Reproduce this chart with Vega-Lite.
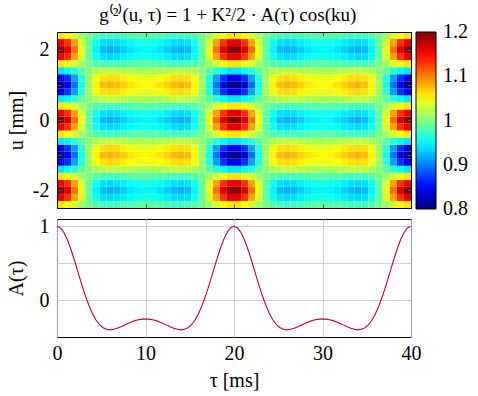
{
"$schema": "https://vega.github.io/schema/vega-lite/v6.json",
"background": "white",
"padding": {"left": 5, "top": 6, "right": 5, "bottom": 5},
"title": {"text": "g⁽²⁾(u, τ)  =  1  +  K²/2 · A(τ) cos(ku)", "fontSize": 19, "font": "Liberation Serif", "fontWeight": "normal", "color": "black", "anchor": "middle", "offset": 6, "dx": -9},
"datasets": {
"heat": [
{"t":0.4,"u":-2.4,"g":1.06},{"t":0.4,"u":-2.2,"g":1.158},{"t":0.4,"u":-2,"g":1.196},{"t":0.4,"u":-1.8,"g":1.158},{"t":0.4,"u":-1.6,"g":1.06},{"t":0.4,"u":-1.4,"g":0.94},{"t":0.4,"u":-1.2,"g":0.842},{"t":0.4,"u":-1,"g":0.804},{"t":0.4,"u":-0.8,"g":0.842},{"t":0.4,"u":-0.6,"g":0.94},{"t":0.4,"u":-0.4,"g":1.06},{"t":0.4,"u":-0.2,"g":1.158},{"t":0.4,"u":0,"g":1.196},{"t":0.4,"u":0.2,"g":1.158},{"t":0.4,"u":0.4,"g":1.06},{"t":0.4,"u":0.6,"g":0.94},{"t":0.4,"u":0.8,"g":0.842},{"t":0.4,"u":1,"g":0.804},{"t":0.4,"u":1.2,"g":0.842},{"t":0.4,"u":1.4,"g":0.94},{"t":0.4,"u":1.6,"g":1.06},{"t":0.4,"u":1.8,"g":1.158},{"t":0.4,"u":2,"g":1.196},{"t":0.4,"u":2.2,"g":1.158},{"t":0.4,"u":2.4,"g":1.06},
{"t":1.2,"u":-2.4,"g":1.05},{"t":1.2,"u":-2.2,"g":1.131},{"t":1.2,"u":-2,"g":1.162},{"t":1.2,"u":-1.8,"g":1.131},{"t":1.2,"u":-1.6,"g":1.05},{"t":1.2,"u":-1.4,"g":0.95},{"t":1.2,"u":-1.2,"g":0.869},{"t":1.2,"u":-1,"g":0.838},{"t":1.2,"u":-0.8,"g":0.869},{"t":1.2,"u":-0.6,"g":0.95},{"t":1.2,"u":-0.4,"g":1.05},{"t":1.2,"u":-0.2,"g":1.131},{"t":1.2,"u":0,"g":1.162},{"t":1.2,"u":0.2,"g":1.131},{"t":1.2,"u":0.4,"g":1.05},{"t":1.2,"u":0.6,"g":0.95},{"t":1.2,"u":0.8,"g":0.869},{"t":1.2,"u":1,"g":0.838},{"t":1.2,"u":1.2,"g":0.869},{"t":1.2,"u":1.4,"g":0.95},{"t":1.2,"u":1.6,"g":1.05},{"t":1.2,"u":1.8,"g":1.131},{"t":1.2,"u":2,"g":1.162},{"t":1.2,"u":2.2,"g":1.131},{"t":1.2,"u":2.4,"g":1.05},
{"t":2,"u":-2.4,"g":1.033},{"t":2,"u":-2.2,"g":1.086},{"t":2,"u":-2,"g":1.106},{"t":2,"u":-1.8,"g":1.086},{"t":2,"u":-1.6,"g":1.033},{"t":2,"u":-1.4,"g":0.967},{"t":2,"u":-1.2,"g":0.914},{"t":2,"u":-1,"g":0.894},{"t":2,"u":-0.8,"g":0.914},{"t":2,"u":-0.6,"g":0.967},{"t":2,"u":-0.4,"g":1.033},{"t":2,"u":-0.2,"g":1.086},{"t":2,"u":0,"g":1.106},{"t":2,"u":0.2,"g":1.086},{"t":2,"u":0.4,"g":1.033},{"t":2,"u":0.6,"g":0.967},{"t":2,"u":0.8,"g":0.914},{"t":2,"u":1,"g":0.894},{"t":2,"u":1.2,"g":0.914},{"t":2,"u":1.4,"g":0.967},{"t":2,"u":1.6,"g":1.033},{"t":2,"u":1.8,"g":1.086},{"t":2,"u":2,"g":1.106},{"t":2,"u":2.2,"g":1.086},{"t":2,"u":2.4,"g":1.033},
{"t":2.8,"u":-2.4,"g":1.013},{"t":2.8,"u":-2.2,"g":1.034},{"t":2.8,"u":-2,"g":1.042},{"t":2.8,"u":-1.8,"g":1.034},{"t":2.8,"u":-1.6,"g":1.013},{"t":2.8,"u":-1.4,"g":0.987},{"t":2.8,"u":-1.2,"g":0.966},{"t":2.8,"u":-1,"g":0.958},{"t":2.8,"u":-0.8,"g":0.966},{"t":2.8,"u":-0.6,"g":0.987},{"t":2.8,"u":-0.4,"g":1.013},{"t":2.8,"u":-0.2,"g":1.034},{"t":2.8,"u":0,"g":1.042},{"t":2.8,"u":0.2,"g":1.034},{"t":2.8,"u":0.4,"g":1.013},{"t":2.8,"u":0.6,"g":0.987},{"t":2.8,"u":0.8,"g":0.966},{"t":2.8,"u":1,"g":0.958},{"t":2.8,"u":1.2,"g":0.966},{"t":2.8,"u":1.4,"g":0.987},{"t":2.8,"u":1.6,"g":1.013},{"t":2.8,"u":1.8,"g":1.034},{"t":2.8,"u":2,"g":1.042},{"t":2.8,"u":2.2,"g":1.034},{"t":2.8,"u":2.4,"g":1.013},
{"t":3.6,"u":-2.4,"g":0.996},{"t":3.6,"u":-2.2,"g":0.989},{"t":3.6,"u":-2,"g":0.986},{"t":3.6,"u":-1.8,"g":0.989},{"t":3.6,"u":-1.6,"g":0.996},{"t":3.6,"u":-1.4,"g":1.004},{"t":3.6,"u":-1.2,"g":1.011},{"t":3.6,"u":-1,"g":1.014},{"t":3.6,"u":-0.8,"g":1.011},{"t":3.6,"u":-0.6,"g":1.004},{"t":3.6,"u":-0.4,"g":0.996},{"t":3.6,"u":-0.2,"g":0.989},{"t":3.6,"u":0,"g":0.986},{"t":3.6,"u":0.2,"g":0.989},{"t":3.6,"u":0.4,"g":0.996},{"t":3.6,"u":0.6,"g":1.004},{"t":3.6,"u":0.8,"g":1.011},{"t":3.6,"u":1,"g":1.014},{"t":3.6,"u":1.2,"g":1.011},{"t":3.6,"u":1.4,"g":1.004},{"t":3.6,"u":1.6,"g":0.996},{"t":3.6,"u":1.8,"g":0.989},{"t":3.6,"u":2,"g":0.986},{"t":3.6,"u":2.2,"g":0.989},{"t":3.6,"u":2.4,"g":0.996},
{"t":4.4,"u":-2.4,"g":0.983},{"t":4.4,"u":-2.2,"g":0.956},{"t":4.4,"u":-2,"g":0.946},{"t":4.4,"u":-1.8,"g":0.956},{"t":4.4,"u":-1.6,"g":0.983},{"t":4.4,"u":-1.4,"g":1.017},{"t":4.4,"u":-1.2,"g":1.044},{"t":4.4,"u":-1,"g":1.054},{"t":4.4,"u":-0.8,"g":1.044},{"t":4.4,"u":-0.6,"g":1.017},{"t":4.4,"u":-0.4,"g":0.983},{"t":4.4,"u":-0.2,"g":0.956},{"t":4.4,"u":0,"g":0.946},{"t":4.4,"u":0.2,"g":0.956},{"t":4.4,"u":0.4,"g":0.983},{"t":4.4,"u":0.6,"g":1.017},{"t":4.4,"u":0.8,"g":1.044},{"t":4.4,"u":1,"g":1.054},{"t":4.4,"u":1.2,"g":1.044},{"t":4.4,"u":1.4,"g":1.017},{"t":4.4,"u":1.6,"g":0.983},{"t":4.4,"u":1.8,"g":0.956},{"t":4.4,"u":2,"g":0.946},{"t":4.4,"u":2.2,"g":0.956},{"t":4.4,"u":2.4,"g":0.983},
{"t":5.2,"u":-2.4,"g":0.977},{"t":5.2,"u":-2.2,"g":0.939},{"t":5.2,"u":-2,"g":0.925},{"t":5.2,"u":-1.8,"g":0.939},{"t":5.2,"u":-1.6,"g":0.977},{"t":5.2,"u":-1.4,"g":1.023},{"t":5.2,"u":-1.2,"g":1.061},{"t":5.2,"u":-1,"g":1.075},{"t":5.2,"u":-0.8,"g":1.061},{"t":5.2,"u":-0.6,"g":1.023},{"t":5.2,"u":-0.4,"g":0.977},{"t":5.2,"u":-0.2,"g":0.939},{"t":5.2,"u":0,"g":0.925},{"t":5.2,"u":0.2,"g":0.939},{"t":5.2,"u":0.4,"g":0.977},{"t":5.2,"u":0.6,"g":1.023},{"t":5.2,"u":0.8,"g":1.061},{"t":5.2,"u":1,"g":1.075},{"t":5.2,"u":1.2,"g":1.061},{"t":5.2,"u":1.4,"g":1.023},{"t":5.2,"u":1.6,"g":0.977},{"t":5.2,"u":1.8,"g":0.939},{"t":5.2,"u":2,"g":0.925},{"t":5.2,"u":2.2,"g":0.939},{"t":5.2,"u":2.4,"g":0.977},
{"t":6,"u":-2.4,"g":0.975},{"t":6,"u":-2.2,"g":0.935},{"t":6,"u":-2,"g":0.919},{"t":6,"u":-1.8,"g":0.935},{"t":6,"u":-1.6,"g":0.975},{"t":6,"u":-1.4,"g":1.025},{"t":6,"u":-1.2,"g":1.065},{"t":6,"u":-1,"g":1.081},{"t":6,"u":-0.8,"g":1.065},{"t":6,"u":-0.6,"g":1.025},{"t":6,"u":-0.4,"g":0.975},{"t":6,"u":-0.2,"g":0.935},{"t":6,"u":0,"g":0.919},{"t":6,"u":0.2,"g":0.935},{"t":6,"u":0.4,"g":0.975},{"t":6,"u":0.6,"g":1.025},{"t":6,"u":0.8,"g":1.065},{"t":6,"u":1,"g":1.081},{"t":6,"u":1.2,"g":1.065},{"t":6,"u":1.4,"g":1.025},{"t":6,"u":1.6,"g":0.975},{"t":6,"u":1.8,"g":0.935},{"t":6,"u":2,"g":0.919},{"t":6,"u":2.2,"g":0.935},{"t":6,"u":2.4,"g":0.975},
{"t":6.8,"u":-2.4,"g":0.976},{"t":6.8,"u":-2.2,"g":0.938},{"t":6.8,"u":-2,"g":0.924},{"t":6.8,"u":-1.8,"g":0.938},{"t":6.8,"u":-1.6,"g":0.976},{"t":6.8,"u":-1.4,"g":1.024},{"t":6.8,"u":-1.2,"g":1.062},{"t":6.8,"u":-1,"g":1.076},{"t":6.8,"u":-0.8,"g":1.062},{"t":6.8,"u":-0.6,"g":1.024},{"t":6.8,"u":-0.4,"g":0.976},{"t":6.8,"u":-0.2,"g":0.938},{"t":6.8,"u":0,"g":0.924},{"t":6.8,"u":0.2,"g":0.938},{"t":6.8,"u":0.4,"g":0.976},{"t":6.8,"u":0.6,"g":1.024},{"t":6.8,"u":0.8,"g":1.062},{"t":6.8,"u":1,"g":1.076},{"t":6.8,"u":1.2,"g":1.062},{"t":6.8,"u":1.4,"g":1.024},{"t":6.8,"u":1.6,"g":0.976},{"t":6.8,"u":1.8,"g":0.938},{"t":6.8,"u":2,"g":0.924},{"t":6.8,"u":2.2,"g":0.938},{"t":6.8,"u":2.4,"g":0.976},
{"t":7.6,"u":-2.4,"g":0.979},{"t":7.6,"u":-2.2,"g":0.945},{"t":7.6,"u":-2,"g":0.932},{"t":7.6,"u":-1.8,"g":0.945},{"t":7.6,"u":-1.6,"g":0.979},{"t":7.6,"u":-1.4,"g":1.021},{"t":7.6,"u":-1.2,"g":1.055},{"t":7.6,"u":-1,"g":1.068},{"t":7.6,"u":-0.8,"g":1.055},{"t":7.6,"u":-0.6,"g":1.021},{"t":7.6,"u":-0.4,"g":0.979},{"t":7.6,"u":-0.2,"g":0.945},{"t":7.6,"u":0,"g":0.932},{"t":7.6,"u":0.2,"g":0.945},{"t":7.6,"u":0.4,"g":0.979},{"t":7.6,"u":0.6,"g":1.021},{"t":7.6,"u":0.8,"g":1.055},{"t":7.6,"u":1,"g":1.068},{"t":7.6,"u":1.2,"g":1.055},{"t":7.6,"u":1.4,"g":1.021},{"t":7.6,"u":1.6,"g":0.979},{"t":7.6,"u":1.8,"g":0.945},{"t":7.6,"u":2,"g":0.932},{"t":7.6,"u":2.2,"g":0.945},{"t":7.6,"u":2.4,"g":0.979},
{"t":8.4,"u":-2.4,"g":0.982},{"t":8.4,"u":-2.2,"g":0.952},{"t":8.4,"u":-2,"g":0.941},{"t":8.4,"u":-1.8,"g":0.952},{"t":8.4,"u":-1.6,"g":0.982},{"t":8.4,"u":-1.4,"g":1.018},{"t":8.4,"u":-1.2,"g":1.048},{"t":8.4,"u":-1,"g":1.059},{"t":8.4,"u":-0.8,"g":1.048},{"t":8.4,"u":-0.6,"g":1.018},{"t":8.4,"u":-0.4,"g":0.982},{"t":8.4,"u":-0.2,"g":0.952},{"t":8.4,"u":0,"g":0.941},{"t":8.4,"u":0.2,"g":0.952},{"t":8.4,"u":0.4,"g":0.982},{"t":8.4,"u":0.6,"g":1.018},{"t":8.4,"u":0.8,"g":1.048},{"t":8.4,"u":1,"g":1.059},{"t":8.4,"u":1.2,"g":1.048},{"t":8.4,"u":1.4,"g":1.018},{"t":8.4,"u":1.6,"g":0.982},{"t":8.4,"u":1.8,"g":0.952},{"t":8.4,"u":2,"g":0.941},{"t":8.4,"u":2.2,"g":0.952},{"t":8.4,"u":2.4,"g":0.982},
{"t":9.2,"u":-2.4,"g":0.984},{"t":9.2,"u":-2.2,"g":0.957},{"t":9.2,"u":-2,"g":0.947},{"t":9.2,"u":-1.8,"g":0.957},{"t":9.2,"u":-1.6,"g":0.984},{"t":9.2,"u":-1.4,"g":1.016},{"t":9.2,"u":-1.2,"g":1.043},{"t":9.2,"u":-1,"g":1.053},{"t":9.2,"u":-0.8,"g":1.043},{"t":9.2,"u":-0.6,"g":1.016},{"t":9.2,"u":-0.4,"g":0.984},{"t":9.2,"u":-0.2,"g":0.957},{"t":9.2,"u":0,"g":0.947},{"t":9.2,"u":0.2,"g":0.957},{"t":9.2,"u":0.4,"g":0.984},{"t":9.2,"u":0.6,"g":1.016},{"t":9.2,"u":0.8,"g":1.043},{"t":9.2,"u":1,"g":1.053},{"t":9.2,"u":1.2,"g":1.043},{"t":9.2,"u":1.4,"g":1.016},{"t":9.2,"u":1.6,"g":0.984},{"t":9.2,"u":1.8,"g":0.957},{"t":9.2,"u":2,"g":0.947},{"t":9.2,"u":2.2,"g":0.957},{"t":9.2,"u":2.4,"g":0.984},
{"t":10,"u":-2.4,"g":0.984},{"t":10,"u":-2.2,"g":0.959},{"t":10,"u":-2,"g":0.949},{"t":10,"u":-1.8,"g":0.959},{"t":10,"u":-1.6,"g":0.984},{"t":10,"u":-1.4,"g":1.016},{"t":10,"u":-1.2,"g":1.041},{"t":10,"u":-1,"g":1.051},{"t":10,"u":-0.8,"g":1.041},{"t":10,"u":-0.6,"g":1.016},{"t":10,"u":-0.4,"g":0.984},{"t":10,"u":-0.2,"g":0.959},{"t":10,"u":0,"g":0.949},{"t":10,"u":0.2,"g":0.959},{"t":10,"u":0.4,"g":0.984},{"t":10,"u":0.6,"g":1.016},{"t":10,"u":0.8,"g":1.041},{"t":10,"u":1,"g":1.051},{"t":10,"u":1.2,"g":1.041},{"t":10,"u":1.4,"g":1.016},{"t":10,"u":1.6,"g":0.984},{"t":10,"u":1.8,"g":0.959},{"t":10,"u":2,"g":0.949},{"t":10,"u":2.2,"g":0.959},{"t":10,"u":2.4,"g":0.984},
{"t":10.8,"u":-2.4,"g":0.984},{"t":10.8,"u":-2.2,"g":0.957},{"t":10.8,"u":-2,"g":0.947},{"t":10.8,"u":-1.8,"g":0.957},{"t":10.8,"u":-1.6,"g":0.984},{"t":10.8,"u":-1.4,"g":1.016},{"t":10.8,"u":-1.2,"g":1.043},{"t":10.8,"u":-1,"g":1.053},{"t":10.8,"u":-0.8,"g":1.043},{"t":10.8,"u":-0.6,"g":1.016},{"t":10.8,"u":-0.4,"g":0.984},{"t":10.8,"u":-0.2,"g":0.957},{"t":10.8,"u":0,"g":0.947},{"t":10.8,"u":0.2,"g":0.957},{"t":10.8,"u":0.4,"g":0.984},{"t":10.8,"u":0.6,"g":1.016},{"t":10.8,"u":0.8,"g":1.043},{"t":10.8,"u":1,"g":1.053},{"t":10.8,"u":1.2,"g":1.043},{"t":10.8,"u":1.4,"g":1.016},{"t":10.8,"u":1.6,"g":0.984},{"t":10.8,"u":1.8,"g":0.957},{"t":10.8,"u":2,"g":0.947},{"t":10.8,"u":2.2,"g":0.957},{"t":10.8,"u":2.4,"g":0.984},
{"t":11.6,"u":-2.4,"g":0.982},{"t":11.6,"u":-2.2,"g":0.952},{"t":11.6,"u":-2,"g":0.941},{"t":11.6,"u":-1.8,"g":0.952},{"t":11.6,"u":-1.6,"g":0.982},{"t":11.6,"u":-1.4,"g":1.018},{"t":11.6,"u":-1.2,"g":1.048},{"t":11.6,"u":-1,"g":1.059},{"t":11.6,"u":-0.8,"g":1.048},{"t":11.6,"u":-0.6,"g":1.018},{"t":11.6,"u":-0.4,"g":0.982},{"t":11.6,"u":-0.2,"g":0.952},{"t":11.6,"u":0,"g":0.941},{"t":11.6,"u":0.2,"g":0.952},{"t":11.6,"u":0.4,"g":0.982},{"t":11.6,"u":0.6,"g":1.018},{"t":11.6,"u":0.8,"g":1.048},{"t":11.6,"u":1,"g":1.059},{"t":11.6,"u":1.2,"g":1.048},{"t":11.6,"u":1.4,"g":1.018},{"t":11.6,"u":1.6,"g":0.982},{"t":11.6,"u":1.8,"g":0.952},{"t":11.6,"u":2,"g":0.941},{"t":11.6,"u":2.2,"g":0.952},{"t":11.6,"u":2.4,"g":0.982},
{"t":12.4,"u":-2.4,"g":0.979},{"t":12.4,"u":-2.2,"g":0.945},{"t":12.4,"u":-2,"g":0.932},{"t":12.4,"u":-1.8,"g":0.945},{"t":12.4,"u":-1.6,"g":0.979},{"t":12.4,"u":-1.4,"g":1.021},{"t":12.4,"u":-1.2,"g":1.055},{"t":12.4,"u":-1,"g":1.068},{"t":12.4,"u":-0.8,"g":1.055},{"t":12.4,"u":-0.6,"g":1.021},{"t":12.4,"u":-0.4,"g":0.979},{"t":12.4,"u":-0.2,"g":0.945},{"t":12.4,"u":0,"g":0.932},{"t":12.4,"u":0.2,"g":0.945},{"t":12.4,"u":0.4,"g":0.979},{"t":12.4,"u":0.6,"g":1.021},{"t":12.4,"u":0.8,"g":1.055},{"t":12.4,"u":1,"g":1.068},{"t":12.4,"u":1.2,"g":1.055},{"t":12.4,"u":1.4,"g":1.021},{"t":12.4,"u":1.6,"g":0.979},{"t":12.4,"u":1.8,"g":0.945},{"t":12.4,"u":2,"g":0.932},{"t":12.4,"u":2.2,"g":0.945},{"t":12.4,"u":2.4,"g":0.979},
{"t":13.2,"u":-2.4,"g":0.976},{"t":13.2,"u":-2.2,"g":0.938},{"t":13.2,"u":-2,"g":0.924},{"t":13.2,"u":-1.8,"g":0.938},{"t":13.2,"u":-1.6,"g":0.976},{"t":13.2,"u":-1.4,"g":1.024},{"t":13.2,"u":-1.2,"g":1.062},{"t":13.2,"u":-1,"g":1.076},{"t":13.2,"u":-0.8,"g":1.062},{"t":13.2,"u":-0.6,"g":1.024},{"t":13.2,"u":-0.4,"g":0.976},{"t":13.2,"u":-0.2,"g":0.938},{"t":13.2,"u":0,"g":0.924},{"t":13.2,"u":0.2,"g":0.938},{"t":13.2,"u":0.4,"g":0.976},{"t":13.2,"u":0.6,"g":1.024},{"t":13.2,"u":0.8,"g":1.062},{"t":13.2,"u":1,"g":1.076},{"t":13.2,"u":1.2,"g":1.062},{"t":13.2,"u":1.4,"g":1.024},{"t":13.2,"u":1.6,"g":0.976},{"t":13.2,"u":1.8,"g":0.938},{"t":13.2,"u":2,"g":0.924},{"t":13.2,"u":2.2,"g":0.938},{"t":13.2,"u":2.4,"g":0.976},
{"t":14,"u":-2.4,"g":0.975},{"t":14,"u":-2.2,"g":0.935},{"t":14,"u":-2,"g":0.919},{"t":14,"u":-1.8,"g":0.935},{"t":14,"u":-1.6,"g":0.975},{"t":14,"u":-1.4,"g":1.025},{"t":14,"u":-1.2,"g":1.065},{"t":14,"u":-1,"g":1.081},{"t":14,"u":-0.8,"g":1.065},{"t":14,"u":-0.6,"g":1.025},{"t":14,"u":-0.4,"g":0.975},{"t":14,"u":-0.2,"g":0.935},{"t":14,"u":0,"g":0.919},{"t":14,"u":0.2,"g":0.935},{"t":14,"u":0.4,"g":0.975},{"t":14,"u":0.6,"g":1.025},{"t":14,"u":0.8,"g":1.065},{"t":14,"u":1,"g":1.081},{"t":14,"u":1.2,"g":1.065},{"t":14,"u":1.4,"g":1.025},{"t":14,"u":1.6,"g":0.975},{"t":14,"u":1.8,"g":0.935},{"t":14,"u":2,"g":0.919},{"t":14,"u":2.2,"g":0.935},{"t":14,"u":2.4,"g":0.975},
{"t":14.8,"u":-2.4,"g":0.977},{"t":14.8,"u":-2.2,"g":0.939},{"t":14.8,"u":-2,"g":0.925},{"t":14.8,"u":-1.8,"g":0.939},{"t":14.8,"u":-1.6,"g":0.977},{"t":14.8,"u":-1.4,"g":1.023},{"t":14.8,"u":-1.2,"g":1.061},{"t":14.8,"u":-1,"g":1.075},{"t":14.8,"u":-0.8,"g":1.061},{"t":14.8,"u":-0.6,"g":1.023},{"t":14.8,"u":-0.4,"g":0.977},{"t":14.8,"u":-0.2,"g":0.939},{"t":14.8,"u":0,"g":0.925},{"t":14.8,"u":0.2,"g":0.939},{"t":14.8,"u":0.4,"g":0.977},{"t":14.8,"u":0.6,"g":1.023},{"t":14.8,"u":0.8,"g":1.061},{"t":14.8,"u":1,"g":1.075},{"t":14.8,"u":1.2,"g":1.061},{"t":14.8,"u":1.4,"g":1.023},{"t":14.8,"u":1.6,"g":0.977},{"t":14.8,"u":1.8,"g":0.939},{"t":14.8,"u":2,"g":0.925},{"t":14.8,"u":2.2,"g":0.939},{"t":14.8,"u":2.4,"g":0.977},
{"t":15.6,"u":-2.4,"g":0.983},{"t":15.6,"u":-2.2,"g":0.956},{"t":15.6,"u":-2,"g":0.946},{"t":15.6,"u":-1.8,"g":0.956},{"t":15.6,"u":-1.6,"g":0.983},{"t":15.6,"u":-1.4,"g":1.017},{"t":15.6,"u":-1.2,"g":1.044},{"t":15.6,"u":-1,"g":1.054},{"t":15.6,"u":-0.8,"g":1.044},{"t":15.6,"u":-0.6,"g":1.017},{"t":15.6,"u":-0.4,"g":0.983},{"t":15.6,"u":-0.2,"g":0.956},{"t":15.6,"u":0,"g":0.946},{"t":15.6,"u":0.2,"g":0.956},{"t":15.6,"u":0.4,"g":0.983},{"t":15.6,"u":0.6,"g":1.017},{"t":15.6,"u":0.8,"g":1.044},{"t":15.6,"u":1,"g":1.054},{"t":15.6,"u":1.2,"g":1.044},{"t":15.6,"u":1.4,"g":1.017},{"t":15.6,"u":1.6,"g":0.983},{"t":15.6,"u":1.8,"g":0.956},{"t":15.6,"u":2,"g":0.946},{"t":15.6,"u":2.2,"g":0.956},{"t":15.6,"u":2.4,"g":0.983},
{"t":16.4,"u":-2.4,"g":0.996},{"t":16.4,"u":-2.2,"g":0.989},{"t":16.4,"u":-2,"g":0.986},{"t":16.4,"u":-1.8,"g":0.989},{"t":16.4,"u":-1.6,"g":0.996},{"t":16.4,"u":-1.4,"g":1.004},{"t":16.4,"u":-1.2,"g":1.011},{"t":16.4,"u":-1,"g":1.014},{"t":16.4,"u":-0.8,"g":1.011},{"t":16.4,"u":-0.6,"g":1.004},{"t":16.4,"u":-0.4,"g":0.996},{"t":16.4,"u":-0.2,"g":0.989},{"t":16.4,"u":0,"g":0.986},{"t":16.4,"u":0.2,"g":0.989},{"t":16.4,"u":0.4,"g":0.996},{"t":16.4,"u":0.6,"g":1.004},{"t":16.4,"u":0.8,"g":1.011},{"t":16.4,"u":1,"g":1.014},{"t":16.4,"u":1.2,"g":1.011},{"t":16.4,"u":1.4,"g":1.004},{"t":16.4,"u":1.6,"g":0.996},{"t":16.4,"u":1.8,"g":0.989},{"t":16.4,"u":2,"g":0.986},{"t":16.4,"u":2.2,"g":0.989},{"t":16.4,"u":2.4,"g":0.996},
{"t":17.2,"u":-2.4,"g":1.013},{"t":17.2,"u":-2.2,"g":1.034},{"t":17.2,"u":-2,"g":1.042},{"t":17.2,"u":-1.8,"g":1.034},{"t":17.2,"u":-1.6,"g":1.013},{"t":17.2,"u":-1.4,"g":0.987},{"t":17.2,"u":-1.2,"g":0.966},{"t":17.2,"u":-1,"g":0.958},{"t":17.2,"u":-0.8,"g":0.966},{"t":17.2,"u":-0.6,"g":0.987},{"t":17.2,"u":-0.4,"g":1.013},{"t":17.2,"u":-0.2,"g":1.034},{"t":17.2,"u":0,"g":1.042},{"t":17.2,"u":0.2,"g":1.034},{"t":17.2,"u":0.4,"g":1.013},{"t":17.2,"u":0.6,"g":0.987},{"t":17.2,"u":0.8,"g":0.966},{"t":17.2,"u":1,"g":0.958},{"t":17.2,"u":1.2,"g":0.966},{"t":17.2,"u":1.4,"g":0.987},{"t":17.2,"u":1.6,"g":1.013},{"t":17.2,"u":1.8,"g":1.034},{"t":17.2,"u":2,"g":1.042},{"t":17.2,"u":2.2,"g":1.034},{"t":17.2,"u":2.4,"g":1.013},
{"t":18,"u":-2.4,"g":1.033},{"t":18,"u":-2.2,"g":1.086},{"t":18,"u":-2,"g":1.106},{"t":18,"u":-1.8,"g":1.086},{"t":18,"u":-1.6,"g":1.033},{"t":18,"u":-1.4,"g":0.967},{"t":18,"u":-1.2,"g":0.914},{"t":18,"u":-1,"g":0.894},{"t":18,"u":-0.8,"g":0.914},{"t":18,"u":-0.6,"g":0.967},{"t":18,"u":-0.4,"g":1.033},{"t":18,"u":-0.2,"g":1.086},{"t":18,"u":0,"g":1.106},{"t":18,"u":0.2,"g":1.086},{"t":18,"u":0.4,"g":1.033},{"t":18,"u":0.6,"g":0.967},{"t":18,"u":0.8,"g":0.914},{"t":18,"u":1,"g":0.894},{"t":18,"u":1.2,"g":0.914},{"t":18,"u":1.4,"g":0.967},{"t":18,"u":1.6,"g":1.033},{"t":18,"u":1.8,"g":1.086},{"t":18,"u":2,"g":1.106},{"t":18,"u":2.2,"g":1.086},{"t":18,"u":2.4,"g":1.033},
{"t":18.8,"u":-2.4,"g":1.05},{"t":18.8,"u":-2.2,"g":1.131},{"t":18.8,"u":-2,"g":1.162},{"t":18.8,"u":-1.8,"g":1.131},{"t":18.8,"u":-1.6,"g":1.05},{"t":18.8,"u":-1.4,"g":0.95},{"t":18.8,"u":-1.2,"g":0.869},{"t":18.8,"u":-1,"g":0.838},{"t":18.8,"u":-0.8,"g":0.869},{"t":18.8,"u":-0.6,"g":0.95},{"t":18.8,"u":-0.4,"g":1.05},{"t":18.8,"u":-0.2,"g":1.131},{"t":18.8,"u":0,"g":1.162},{"t":18.8,"u":0.2,"g":1.131},{"t":18.8,"u":0.4,"g":1.05},{"t":18.8,"u":0.6,"g":0.95},{"t":18.8,"u":0.8,"g":0.869},{"t":18.8,"u":1,"g":0.838},{"t":18.8,"u":1.2,"g":0.869},{"t":18.8,"u":1.4,"g":0.95},{"t":18.8,"u":1.6,"g":1.05},{"t":18.8,"u":1.8,"g":1.131},{"t":18.8,"u":2,"g":1.162},{"t":18.8,"u":2.2,"g":1.131},{"t":18.8,"u":2.4,"g":1.05},
{"t":19.6,"u":-2.4,"g":1.06},{"t":19.6,"u":-2.2,"g":1.158},{"t":19.6,"u":-2,"g":1.196},{"t":19.6,"u":-1.8,"g":1.158},{"t":19.6,"u":-1.6,"g":1.06},{"t":19.6,"u":-1.4,"g":0.94},{"t":19.6,"u":-1.2,"g":0.842},{"t":19.6,"u":-1,"g":0.804},{"t":19.6,"u":-0.8,"g":0.842},{"t":19.6,"u":-0.6,"g":0.94},{"t":19.6,"u":-0.4,"g":1.06},{"t":19.6,"u":-0.2,"g":1.158},{"t":19.6,"u":0,"g":1.196},{"t":19.6,"u":0.2,"g":1.158},{"t":19.6,"u":0.4,"g":1.06},{"t":19.6,"u":0.6,"g":0.94},{"t":19.6,"u":0.8,"g":0.842},{"t":19.6,"u":1,"g":0.804},{"t":19.6,"u":1.2,"g":0.842},{"t":19.6,"u":1.4,"g":0.94},{"t":19.6,"u":1.6,"g":1.06},{"t":19.6,"u":1.8,"g":1.158},{"t":19.6,"u":2,"g":1.196},{"t":19.6,"u":2.2,"g":1.158},{"t":19.6,"u":2.4,"g":1.06},
{"t":20.4,"u":-2.4,"g":1.06},{"t":20.4,"u":-2.2,"g":1.158},{"t":20.4,"u":-2,"g":1.196},{"t":20.4,"u":-1.8,"g":1.158},{"t":20.4,"u":-1.6,"g":1.06},{"t":20.4,"u":-1.4,"g":0.94},{"t":20.4,"u":-1.2,"g":0.842},{"t":20.4,"u":-1,"g":0.804},{"t":20.4,"u":-0.8,"g":0.842},{"t":20.4,"u":-0.6,"g":0.94},{"t":20.4,"u":-0.4,"g":1.06},{"t":20.4,"u":-0.2,"g":1.158},{"t":20.4,"u":0,"g":1.196},{"t":20.4,"u":0.2,"g":1.158},{"t":20.4,"u":0.4,"g":1.06},{"t":20.4,"u":0.6,"g":0.94},{"t":20.4,"u":0.8,"g":0.842},{"t":20.4,"u":1,"g":0.804},{"t":20.4,"u":1.2,"g":0.842},{"t":20.4,"u":1.4,"g":0.94},{"t":20.4,"u":1.6,"g":1.06},{"t":20.4,"u":1.8,"g":1.158},{"t":20.4,"u":2,"g":1.196},{"t":20.4,"u":2.2,"g":1.158},{"t":20.4,"u":2.4,"g":1.06},
{"t":21.2,"u":-2.4,"g":1.05},{"t":21.2,"u":-2.2,"g":1.131},{"t":21.2,"u":-2,"g":1.162},{"t":21.2,"u":-1.8,"g":1.131},{"t":21.2,"u":-1.6,"g":1.05},{"t":21.2,"u":-1.4,"g":0.95},{"t":21.2,"u":-1.2,"g":0.869},{"t":21.2,"u":-1,"g":0.838},{"t":21.2,"u":-0.8,"g":0.869},{"t":21.2,"u":-0.6,"g":0.95},{"t":21.2,"u":-0.4,"g":1.05},{"t":21.2,"u":-0.2,"g":1.131},{"t":21.2,"u":0,"g":1.162},{"t":21.2,"u":0.2,"g":1.131},{"t":21.2,"u":0.4,"g":1.05},{"t":21.2,"u":0.6,"g":0.95},{"t":21.2,"u":0.8,"g":0.869},{"t":21.2,"u":1,"g":0.838},{"t":21.2,"u":1.2,"g":0.869},{"t":21.2,"u":1.4,"g":0.95},{"t":21.2,"u":1.6,"g":1.05},{"t":21.2,"u":1.8,"g":1.131},{"t":21.2,"u":2,"g":1.162},{"t":21.2,"u":2.2,"g":1.131},{"t":21.2,"u":2.4,"g":1.05},
{"t":22,"u":-2.4,"g":1.033},{"t":22,"u":-2.2,"g":1.086},{"t":22,"u":-2,"g":1.106},{"t":22,"u":-1.8,"g":1.086},{"t":22,"u":-1.6,"g":1.033},{"t":22,"u":-1.4,"g":0.967},{"t":22,"u":-1.2,"g":0.914},{"t":22,"u":-1,"g":0.894},{"t":22,"u":-0.8,"g":0.914},{"t":22,"u":-0.6,"g":0.967},{"t":22,"u":-0.4,"g":1.033},{"t":22,"u":-0.2,"g":1.086},{"t":22,"u":0,"g":1.106},{"t":22,"u":0.2,"g":1.086},{"t":22,"u":0.4,"g":1.033},{"t":22,"u":0.6,"g":0.967},{"t":22,"u":0.8,"g":0.914},{"t":22,"u":1,"g":0.894},{"t":22,"u":1.2,"g":0.914},{"t":22,"u":1.4,"g":0.967},{"t":22,"u":1.6,"g":1.033},{"t":22,"u":1.8,"g":1.086},{"t":22,"u":2,"g":1.106},{"t":22,"u":2.2,"g":1.086},{"t":22,"u":2.4,"g":1.033},
{"t":22.8,"u":-2.4,"g":1.013},{"t":22.8,"u":-2.2,"g":1.034},{"t":22.8,"u":-2,"g":1.042},{"t":22.8,"u":-1.8,"g":1.034},{"t":22.8,"u":-1.6,"g":1.013},{"t":22.8,"u":-1.4,"g":0.987},{"t":22.8,"u":-1.2,"g":0.966},{"t":22.8,"u":-1,"g":0.958},{"t":22.8,"u":-0.8,"g":0.966},{"t":22.8,"u":-0.6,"g":0.987},{"t":22.8,"u":-0.4,"g":1.013},{"t":22.8,"u":-0.2,"g":1.034},{"t":22.8,"u":0,"g":1.042},{"t":22.8,"u":0.2,"g":1.034},{"t":22.8,"u":0.4,"g":1.013},{"t":22.8,"u":0.6,"g":0.987},{"t":22.8,"u":0.8,"g":0.966},{"t":22.8,"u":1,"g":0.958},{"t":22.8,"u":1.2,"g":0.966},{"t":22.8,"u":1.4,"g":0.987},{"t":22.8,"u":1.6,"g":1.013},{"t":22.8,"u":1.8,"g":1.034},{"t":22.8,"u":2,"g":1.042},{"t":22.8,"u":2.2,"g":1.034},{"t":22.8,"u":2.4,"g":1.013},
{"t":23.6,"u":-2.4,"g":0.996},{"t":23.6,"u":-2.2,"g":0.989},{"t":23.6,"u":-2,"g":0.986},{"t":23.6,"u":-1.8,"g":0.989},{"t":23.6,"u":-1.6,"g":0.996},{"t":23.6,"u":-1.4,"g":1.004},{"t":23.6,"u":-1.2,"g":1.011},{"t":23.6,"u":-1,"g":1.014},{"t":23.6,"u":-0.8,"g":1.011},{"t":23.6,"u":-0.6,"g":1.004},{"t":23.6,"u":-0.4,"g":0.996},{"t":23.6,"u":-0.2,"g":0.989},{"t":23.6,"u":0,"g":0.986},{"t":23.6,"u":0.2,"g":0.989},{"t":23.6,"u":0.4,"g":0.996},{"t":23.6,"u":0.6,"g":1.004},{"t":23.6,"u":0.8,"g":1.011},{"t":23.6,"u":1,"g":1.014},{"t":23.6,"u":1.2,"g":1.011},{"t":23.6,"u":1.4,"g":1.004},{"t":23.6,"u":1.6,"g":0.996},{"t":23.6,"u":1.8,"g":0.989},{"t":23.6,"u":2,"g":0.986},{"t":23.6,"u":2.2,"g":0.989},{"t":23.6,"u":2.4,"g":0.996},
{"t":24.4,"u":-2.4,"g":0.983},{"t":24.4,"u":-2.2,"g":0.956},{"t":24.4,"u":-2,"g":0.946},{"t":24.4,"u":-1.8,"g":0.956},{"t":24.4,"u":-1.6,"g":0.983},{"t":24.4,"u":-1.4,"g":1.017},{"t":24.4,"u":-1.2,"g":1.044},{"t":24.4,"u":-1,"g":1.054},{"t":24.4,"u":-0.8,"g":1.044},{"t":24.4,"u":-0.6,"g":1.017},{"t":24.4,"u":-0.4,"g":0.983},{"t":24.4,"u":-0.2,"g":0.956},{"t":24.4,"u":0,"g":0.946},{"t":24.4,"u":0.2,"g":0.956},{"t":24.4,"u":0.4,"g":0.983},{"t":24.4,"u":0.6,"g":1.017},{"t":24.4,"u":0.8,"g":1.044},{"t":24.4,"u":1,"g":1.054},{"t":24.4,"u":1.2,"g":1.044},{"t":24.4,"u":1.4,"g":1.017},{"t":24.4,"u":1.6,"g":0.983},{"t":24.4,"u":1.8,"g":0.956},{"t":24.4,"u":2,"g":0.946},{"t":24.4,"u":2.2,"g":0.956},{"t":24.4,"u":2.4,"g":0.983},
{"t":25.2,"u":-2.4,"g":0.977},{"t":25.2,"u":-2.2,"g":0.939},{"t":25.2,"u":-2,"g":0.925},{"t":25.2,"u":-1.8,"g":0.939},{"t":25.2,"u":-1.6,"g":0.977},{"t":25.2,"u":-1.4,"g":1.023},{"t":25.2,"u":-1.2,"g":1.061},{"t":25.2,"u":-1,"g":1.075},{"t":25.2,"u":-0.8,"g":1.061},{"t":25.2,"u":-0.6,"g":1.023},{"t":25.2,"u":-0.4,"g":0.977},{"t":25.2,"u":-0.2,"g":0.939},{"t":25.2,"u":0,"g":0.925},{"t":25.2,"u":0.2,"g":0.939},{"t":25.2,"u":0.4,"g":0.977},{"t":25.2,"u":0.6,"g":1.023},{"t":25.2,"u":0.8,"g":1.061},{"t":25.2,"u":1,"g":1.075},{"t":25.2,"u":1.2,"g":1.061},{"t":25.2,"u":1.4,"g":1.023},{"t":25.2,"u":1.6,"g":0.977},{"t":25.2,"u":1.8,"g":0.939},{"t":25.2,"u":2,"g":0.925},{"t":25.2,"u":2.2,"g":0.939},{"t":25.2,"u":2.4,"g":0.977},
{"t":26,"u":-2.4,"g":0.975},{"t":26,"u":-2.2,"g":0.935},{"t":26,"u":-2,"g":0.919},{"t":26,"u":-1.8,"g":0.935},{"t":26,"u":-1.6,"g":0.975},{"t":26,"u":-1.4,"g":1.025},{"t":26,"u":-1.2,"g":1.065},{"t":26,"u":-1,"g":1.081},{"t":26,"u":-0.8,"g":1.065},{"t":26,"u":-0.6,"g":1.025},{"t":26,"u":-0.4,"g":0.975},{"t":26,"u":-0.2,"g":0.935},{"t":26,"u":0,"g":0.919},{"t":26,"u":0.2,"g":0.935},{"t":26,"u":0.4,"g":0.975},{"t":26,"u":0.6,"g":1.025},{"t":26,"u":0.8,"g":1.065},{"t":26,"u":1,"g":1.081},{"t":26,"u":1.2,"g":1.065},{"t":26,"u":1.4,"g":1.025},{"t":26,"u":1.6,"g":0.975},{"t":26,"u":1.8,"g":0.935},{"t":26,"u":2,"g":0.919},{"t":26,"u":2.2,"g":0.935},{"t":26,"u":2.4,"g":0.975},
{"t":26.8,"u":-2.4,"g":0.976},{"t":26.8,"u":-2.2,"g":0.938},{"t":26.8,"u":-2,"g":0.924},{"t":26.8,"u":-1.8,"g":0.938},{"t":26.8,"u":-1.6,"g":0.976},{"t":26.8,"u":-1.4,"g":1.024},{"t":26.8,"u":-1.2,"g":1.062},{"t":26.8,"u":-1,"g":1.076},{"t":26.8,"u":-0.8,"g":1.062},{"t":26.8,"u":-0.6,"g":1.024},{"t":26.8,"u":-0.4,"g":0.976},{"t":26.8,"u":-0.2,"g":0.938},{"t":26.8,"u":0,"g":0.924},{"t":26.8,"u":0.2,"g":0.938},{"t":26.8,"u":0.4,"g":0.976},{"t":26.8,"u":0.6,"g":1.024},{"t":26.8,"u":0.8,"g":1.062},{"t":26.8,"u":1,"g":1.076},{"t":26.8,"u":1.2,"g":1.062},{"t":26.8,"u":1.4,"g":1.024},{"t":26.8,"u":1.6,"g":0.976},{"t":26.8,"u":1.8,"g":0.938},{"t":26.8,"u":2,"g":0.924},{"t":26.8,"u":2.2,"g":0.938},{"t":26.8,"u":2.4,"g":0.976},
{"t":27.6,"u":-2.4,"g":0.979},{"t":27.6,"u":-2.2,"g":0.945},{"t":27.6,"u":-2,"g":0.932},{"t":27.6,"u":-1.8,"g":0.945},{"t":27.6,"u":-1.6,"g":0.979},{"t":27.6,"u":-1.4,"g":1.021},{"t":27.6,"u":-1.2,"g":1.055},{"t":27.6,"u":-1,"g":1.068},{"t":27.6,"u":-0.8,"g":1.055},{"t":27.6,"u":-0.6,"g":1.021},{"t":27.6,"u":-0.4,"g":0.979},{"t":27.6,"u":-0.2,"g":0.945},{"t":27.6,"u":0,"g":0.932},{"t":27.6,"u":0.2,"g":0.945},{"t":27.6,"u":0.4,"g":0.979},{"t":27.6,"u":0.6,"g":1.021},{"t":27.6,"u":0.8,"g":1.055},{"t":27.6,"u":1,"g":1.068},{"t":27.6,"u":1.2,"g":1.055},{"t":27.6,"u":1.4,"g":1.021},{"t":27.6,"u":1.6,"g":0.979},{"t":27.6,"u":1.8,"g":0.945},{"t":27.6,"u":2,"g":0.932},{"t":27.6,"u":2.2,"g":0.945},{"t":27.6,"u":2.4,"g":0.979},
{"t":28.4,"u":-2.4,"g":0.982},{"t":28.4,"u":-2.2,"g":0.952},{"t":28.4,"u":-2,"g":0.941},{"t":28.4,"u":-1.8,"g":0.952},{"t":28.4,"u":-1.6,"g":0.982},{"t":28.4,"u":-1.4,"g":1.018},{"t":28.4,"u":-1.2,"g":1.048},{"t":28.4,"u":-1,"g":1.059},{"t":28.4,"u":-0.8,"g":1.048},{"t":28.4,"u":-0.6,"g":1.018},{"t":28.4,"u":-0.4,"g":0.982},{"t":28.4,"u":-0.2,"g":0.952},{"t":28.4,"u":0,"g":0.941},{"t":28.4,"u":0.2,"g":0.952},{"t":28.4,"u":0.4,"g":0.982},{"t":28.4,"u":0.6,"g":1.018},{"t":28.4,"u":0.8,"g":1.048},{"t":28.4,"u":1,"g":1.059},{"t":28.4,"u":1.2,"g":1.048},{"t":28.4,"u":1.4,"g":1.018},{"t":28.4,"u":1.6,"g":0.982},{"t":28.4,"u":1.8,"g":0.952},{"t":28.4,"u":2,"g":0.941},{"t":28.4,"u":2.2,"g":0.952},{"t":28.4,"u":2.4,"g":0.982},
{"t":29.2,"u":-2.4,"g":0.984},{"t":29.2,"u":-2.2,"g":0.957},{"t":29.2,"u":-2,"g":0.947},{"t":29.2,"u":-1.8,"g":0.957},{"t":29.2,"u":-1.6,"g":0.984},{"t":29.2,"u":-1.4,"g":1.016},{"t":29.2,"u":-1.2,"g":1.043},{"t":29.2,"u":-1,"g":1.053},{"t":29.2,"u":-0.8,"g":1.043},{"t":29.2,"u":-0.6,"g":1.016},{"t":29.2,"u":-0.4,"g":0.984},{"t":29.2,"u":-0.2,"g":0.957},{"t":29.2,"u":0,"g":0.947},{"t":29.2,"u":0.2,"g":0.957},{"t":29.2,"u":0.4,"g":0.984},{"t":29.2,"u":0.6,"g":1.016},{"t":29.2,"u":0.8,"g":1.043},{"t":29.2,"u":1,"g":1.053},{"t":29.2,"u":1.2,"g":1.043},{"t":29.2,"u":1.4,"g":1.016},{"t":29.2,"u":1.6,"g":0.984},{"t":29.2,"u":1.8,"g":0.957},{"t":29.2,"u":2,"g":0.947},{"t":29.2,"u":2.2,"g":0.957},{"t":29.2,"u":2.4,"g":0.984},
{"t":30,"u":-2.4,"g":0.984},{"t":30,"u":-2.2,"g":0.959},{"t":30,"u":-2,"g":0.949},{"t":30,"u":-1.8,"g":0.959},{"t":30,"u":-1.6,"g":0.984},{"t":30,"u":-1.4,"g":1.016},{"t":30,"u":-1.2,"g":1.041},{"t":30,"u":-1,"g":1.051},{"t":30,"u":-0.8,"g":1.041},{"t":30,"u":-0.6,"g":1.016},{"t":30,"u":-0.4,"g":0.984},{"t":30,"u":-0.2,"g":0.959},{"t":30,"u":0,"g":0.949},{"t":30,"u":0.2,"g":0.959},{"t":30,"u":0.4,"g":0.984},{"t":30,"u":0.6,"g":1.016},{"t":30,"u":0.8,"g":1.041},{"t":30,"u":1,"g":1.051},{"t":30,"u":1.2,"g":1.041},{"t":30,"u":1.4,"g":1.016},{"t":30,"u":1.6,"g":0.984},{"t":30,"u":1.8,"g":0.959},{"t":30,"u":2,"g":0.949},{"t":30,"u":2.2,"g":0.959},{"t":30,"u":2.4,"g":0.984},
{"t":30.8,"u":-2.4,"g":0.984},{"t":30.8,"u":-2.2,"g":0.957},{"t":30.8,"u":-2,"g":0.947},{"t":30.8,"u":-1.8,"g":0.957},{"t":30.8,"u":-1.6,"g":0.984},{"t":30.8,"u":-1.4,"g":1.016},{"t":30.8,"u":-1.2,"g":1.043},{"t":30.8,"u":-1,"g":1.053},{"t":30.8,"u":-0.8,"g":1.043},{"t":30.8,"u":-0.6,"g":1.016},{"t":30.8,"u":-0.4,"g":0.984},{"t":30.8,"u":-0.2,"g":0.957},{"t":30.8,"u":0,"g":0.947},{"t":30.8,"u":0.2,"g":0.957},{"t":30.8,"u":0.4,"g":0.984},{"t":30.8,"u":0.6,"g":1.016},{"t":30.8,"u":0.8,"g":1.043},{"t":30.8,"u":1,"g":1.053},{"t":30.8,"u":1.2,"g":1.043},{"t":30.8,"u":1.4,"g":1.016},{"t":30.8,"u":1.6,"g":0.984},{"t":30.8,"u":1.8,"g":0.957},{"t":30.8,"u":2,"g":0.947},{"t":30.8,"u":2.2,"g":0.957},{"t":30.8,"u":2.4,"g":0.984},
{"t":31.6,"u":-2.4,"g":0.982},{"t":31.6,"u":-2.2,"g":0.952},{"t":31.6,"u":-2,"g":0.941},{"t":31.6,"u":-1.8,"g":0.952},{"t":31.6,"u":-1.6,"g":0.982},{"t":31.6,"u":-1.4,"g":1.018},{"t":31.6,"u":-1.2,"g":1.048},{"t":31.6,"u":-1,"g":1.059},{"t":31.6,"u":-0.8,"g":1.048},{"t":31.6,"u":-0.6,"g":1.018},{"t":31.6,"u":-0.4,"g":0.982},{"t":31.6,"u":-0.2,"g":0.952},{"t":31.6,"u":0,"g":0.941},{"t":31.6,"u":0.2,"g":0.952},{"t":31.6,"u":0.4,"g":0.982},{"t":31.6,"u":0.6,"g":1.018},{"t":31.6,"u":0.8,"g":1.048},{"t":31.6,"u":1,"g":1.059},{"t":31.6,"u":1.2,"g":1.048},{"t":31.6,"u":1.4,"g":1.018},{"t":31.6,"u":1.6,"g":0.982},{"t":31.6,"u":1.8,"g":0.952},{"t":31.6,"u":2,"g":0.941},{"t":31.6,"u":2.2,"g":0.952},{"t":31.6,"u":2.4,"g":0.982},
{"t":32.4,"u":-2.4,"g":0.979},{"t":32.4,"u":-2.2,"g":0.945},{"t":32.4,"u":-2,"g":0.932},{"t":32.4,"u":-1.8,"g":0.945},{"t":32.4,"u":-1.6,"g":0.979},{"t":32.4,"u":-1.4,"g":1.021},{"t":32.4,"u":-1.2,"g":1.055},{"t":32.4,"u":-1,"g":1.068},{"t":32.4,"u":-0.8,"g":1.055},{"t":32.4,"u":-0.6,"g":1.021},{"t":32.4,"u":-0.4,"g":0.979},{"t":32.4,"u":-0.2,"g":0.945},{"t":32.4,"u":0,"g":0.932},{"t":32.4,"u":0.2,"g":0.945},{"t":32.4,"u":0.4,"g":0.979},{"t":32.4,"u":0.6,"g":1.021},{"t":32.4,"u":0.8,"g":1.055},{"t":32.4,"u":1,"g":1.068},{"t":32.4,"u":1.2,"g":1.055},{"t":32.4,"u":1.4,"g":1.021},{"t":32.4,"u":1.6,"g":0.979},{"t":32.4,"u":1.8,"g":0.945},{"t":32.4,"u":2,"g":0.932},{"t":32.4,"u":2.2,"g":0.945},{"t":32.4,"u":2.4,"g":0.979},
{"t":33.2,"u":-2.4,"g":0.976},{"t":33.2,"u":-2.2,"g":0.938},{"t":33.2,"u":-2,"g":0.924},{"t":33.2,"u":-1.8,"g":0.938},{"t":33.2,"u":-1.6,"g":0.976},{"t":33.2,"u":-1.4,"g":1.024},{"t":33.2,"u":-1.2,"g":1.062},{"t":33.2,"u":-1,"g":1.076},{"t":33.2,"u":-0.8,"g":1.062},{"t":33.2,"u":-0.6,"g":1.024},{"t":33.2,"u":-0.4,"g":0.976},{"t":33.2,"u":-0.2,"g":0.938},{"t":33.2,"u":0,"g":0.924},{"t":33.2,"u":0.2,"g":0.938},{"t":33.2,"u":0.4,"g":0.976},{"t":33.2,"u":0.6,"g":1.024},{"t":33.2,"u":0.8,"g":1.062},{"t":33.2,"u":1,"g":1.076},{"t":33.2,"u":1.2,"g":1.062},{"t":33.2,"u":1.4,"g":1.024},{"t":33.2,"u":1.6,"g":0.976},{"t":33.2,"u":1.8,"g":0.938},{"t":33.2,"u":2,"g":0.924},{"t":33.2,"u":2.2,"g":0.938},{"t":33.2,"u":2.4,"g":0.976},
{"t":34,"u":-2.4,"g":0.975},{"t":34,"u":-2.2,"g":0.935},{"t":34,"u":-2,"g":0.919},{"t":34,"u":-1.8,"g":0.935},{"t":34,"u":-1.6,"g":0.975},{"t":34,"u":-1.4,"g":1.025},{"t":34,"u":-1.2,"g":1.065},{"t":34,"u":-1,"g":1.081},{"t":34,"u":-0.8,"g":1.065},{"t":34,"u":-0.6,"g":1.025},{"t":34,"u":-0.4,"g":0.975},{"t":34,"u":-0.2,"g":0.935},{"t":34,"u":0,"g":0.919},{"t":34,"u":0.2,"g":0.935},{"t":34,"u":0.4,"g":0.975},{"t":34,"u":0.6,"g":1.025},{"t":34,"u":0.8,"g":1.065},{"t":34,"u":1,"g":1.081},{"t":34,"u":1.2,"g":1.065},{"t":34,"u":1.4,"g":1.025},{"t":34,"u":1.6,"g":0.975},{"t":34,"u":1.8,"g":0.935},{"t":34,"u":2,"g":0.919},{"t":34,"u":2.2,"g":0.935},{"t":34,"u":2.4,"g":0.975},
{"t":34.8,"u":-2.4,"g":0.977},{"t":34.8,"u":-2.2,"g":0.939},{"t":34.8,"u":-2,"g":0.925},{"t":34.8,"u":-1.8,"g":0.939},{"t":34.8,"u":-1.6,"g":0.977},{"t":34.8,"u":-1.4,"g":1.023},{"t":34.8,"u":-1.2,"g":1.061},{"t":34.8,"u":-1,"g":1.075},{"t":34.8,"u":-0.8,"g":1.061},{"t":34.8,"u":-0.6,"g":1.023},{"t":34.8,"u":-0.4,"g":0.977},{"t":34.8,"u":-0.2,"g":0.939},{"t":34.8,"u":0,"g":0.925},{"t":34.8,"u":0.2,"g":0.939},{"t":34.8,"u":0.4,"g":0.977},{"t":34.8,"u":0.6,"g":1.023},{"t":34.8,"u":0.8,"g":1.061},{"t":34.8,"u":1,"g":1.075},{"t":34.8,"u":1.2,"g":1.061},{"t":34.8,"u":1.4,"g":1.023},{"t":34.8,"u":1.6,"g":0.977},{"t":34.8,"u":1.8,"g":0.939},{"t":34.8,"u":2,"g":0.925},{"t":34.8,"u":2.2,"g":0.939},{"t":34.8,"u":2.4,"g":0.977},
{"t":35.6,"u":-2.4,"g":0.983},{"t":35.6,"u":-2.2,"g":0.956},{"t":35.6,"u":-2,"g":0.946},{"t":35.6,"u":-1.8,"g":0.956},{"t":35.6,"u":-1.6,"g":0.983},{"t":35.6,"u":-1.4,"g":1.017},{"t":35.6,"u":-1.2,"g":1.044},{"t":35.6,"u":-1,"g":1.054},{"t":35.6,"u":-0.8,"g":1.044},{"t":35.6,"u":-0.6,"g":1.017},{"t":35.6,"u":-0.4,"g":0.983},{"t":35.6,"u":-0.2,"g":0.956},{"t":35.6,"u":0,"g":0.946},{"t":35.6,"u":0.2,"g":0.956},{"t":35.6,"u":0.4,"g":0.983},{"t":35.6,"u":0.6,"g":1.017},{"t":35.6,"u":0.8,"g":1.044},{"t":35.6,"u":1,"g":1.054},{"t":35.6,"u":1.2,"g":1.044},{"t":35.6,"u":1.4,"g":1.017},{"t":35.6,"u":1.6,"g":0.983},{"t":35.6,"u":1.8,"g":0.956},{"t":35.6,"u":2,"g":0.946},{"t":35.6,"u":2.2,"g":0.956},{"t":35.6,"u":2.4,"g":0.983},
{"t":36.4,"u":-2.4,"g":0.996},{"t":36.4,"u":-2.2,"g":0.989},{"t":36.4,"u":-2,"g":0.986},{"t":36.4,"u":-1.8,"g":0.989},{"t":36.4,"u":-1.6,"g":0.996},{"t":36.4,"u":-1.4,"g":1.004},{"t":36.4,"u":-1.2,"g":1.011},{"t":36.4,"u":-1,"g":1.014},{"t":36.4,"u":-0.8,"g":1.011},{"t":36.4,"u":-0.6,"g":1.004},{"t":36.4,"u":-0.4,"g":0.996},{"t":36.4,"u":-0.2,"g":0.989},{"t":36.4,"u":0,"g":0.986},{"t":36.4,"u":0.2,"g":0.989},{"t":36.4,"u":0.4,"g":0.996},{"t":36.4,"u":0.6,"g":1.004},{"t":36.4,"u":0.8,"g":1.011},{"t":36.4,"u":1,"g":1.014},{"t":36.4,"u":1.2,"g":1.011},{"t":36.4,"u":1.4,"g":1.004},{"t":36.4,"u":1.6,"g":0.996},{"t":36.4,"u":1.8,"g":0.989},{"t":36.4,"u":2,"g":0.986},{"t":36.4,"u":2.2,"g":0.989},{"t":36.4,"u":2.4,"g":0.996},
{"t":37.2,"u":-2.4,"g":1.013},{"t":37.2,"u":-2.2,"g":1.034},{"t":37.2,"u":-2,"g":1.042},{"t":37.2,"u":-1.8,"g":1.034},{"t":37.2,"u":-1.6,"g":1.013},{"t":37.2,"u":-1.4,"g":0.987},{"t":37.2,"u":-1.2,"g":0.966},{"t":37.2,"u":-1,"g":0.958},{"t":37.2,"u":-0.8,"g":0.966},{"t":37.2,"u":-0.6,"g":0.987},{"t":37.2,"u":-0.4,"g":1.013},{"t":37.2,"u":-0.2,"g":1.034},{"t":37.2,"u":0,"g":1.042},{"t":37.2,"u":0.2,"g":1.034},{"t":37.2,"u":0.4,"g":1.013},{"t":37.2,"u":0.6,"g":0.987},{"t":37.2,"u":0.8,"g":0.966},{"t":37.2,"u":1,"g":0.958},{"t":37.2,"u":1.2,"g":0.966},{"t":37.2,"u":1.4,"g":0.987},{"t":37.2,"u":1.6,"g":1.013},{"t":37.2,"u":1.8,"g":1.034},{"t":37.2,"u":2,"g":1.042},{"t":37.2,"u":2.2,"g":1.034},{"t":37.2,"u":2.4,"g":1.013},
{"t":38,"u":-2.4,"g":1.033},{"t":38,"u":-2.2,"g":1.086},{"t":38,"u":-2,"g":1.106},{"t":38,"u":-1.8,"g":1.086},{"t":38,"u":-1.6,"g":1.033},{"t":38,"u":-1.4,"g":0.967},{"t":38,"u":-1.2,"g":0.914},{"t":38,"u":-1,"g":0.894},{"t":38,"u":-0.8,"g":0.914},{"t":38,"u":-0.6,"g":0.967},{"t":38,"u":-0.4,"g":1.033},{"t":38,"u":-0.2,"g":1.086},{"t":38,"u":0,"g":1.106},{"t":38,"u":0.2,"g":1.086},{"t":38,"u":0.4,"g":1.033},{"t":38,"u":0.6,"g":0.967},{"t":38,"u":0.8,"g":0.914},{"t":38,"u":1,"g":0.894},{"t":38,"u":1.2,"g":0.914},{"t":38,"u":1.4,"g":0.967},{"t":38,"u":1.6,"g":1.033},{"t":38,"u":1.8,"g":1.086},{"t":38,"u":2,"g":1.106},{"t":38,"u":2.2,"g":1.086},{"t":38,"u":2.4,"g":1.033},
{"t":38.8,"u":-2.4,"g":1.05},{"t":38.8,"u":-2.2,"g":1.131},{"t":38.8,"u":-2,"g":1.162},{"t":38.8,"u":-1.8,"g":1.131},{"t":38.8,"u":-1.6,"g":1.05},{"t":38.8,"u":-1.4,"g":0.95},{"t":38.8,"u":-1.2,"g":0.869},{"t":38.8,"u":-1,"g":0.838},{"t":38.8,"u":-0.8,"g":0.869},{"t":38.8,"u":-0.6,"g":0.95},{"t":38.8,"u":-0.4,"g":1.05},{"t":38.8,"u":-0.2,"g":1.131},{"t":38.8,"u":0,"g":1.162},{"t":38.8,"u":0.2,"g":1.131},{"t":38.8,"u":0.4,"g":1.05},{"t":38.8,"u":0.6,"g":0.95},{"t":38.8,"u":0.8,"g":0.869},{"t":38.8,"u":1,"g":0.838},{"t":38.8,"u":1.2,"g":0.869},{"t":38.8,"u":1.4,"g":0.95},{"t":38.8,"u":1.6,"g":1.05},{"t":38.8,"u":1.8,"g":1.131},{"t":38.8,"u":2,"g":1.162},{"t":38.8,"u":2.2,"g":1.131},{"t":38.8,"u":2.4,"g":1.05},
{"t":39.6,"u":-2.4,"g":1.06},{"t":39.6,"u":-2.2,"g":1.158},{"t":39.6,"u":-2,"g":1.196},{"t":39.6,"u":-1.8,"g":1.158},{"t":39.6,"u":-1.6,"g":1.06},{"t":39.6,"u":-1.4,"g":0.94},{"t":39.6,"u":-1.2,"g":0.842},{"t":39.6,"u":-1,"g":0.804},{"t":39.6,"u":-0.8,"g":0.842},{"t":39.6,"u":-0.6,"g":0.94},{"t":39.6,"u":-0.4,"g":1.06},{"t":39.6,"u":-0.2,"g":1.158},{"t":39.6,"u":0,"g":1.196},{"t":39.6,"u":0.2,"g":1.158},{"t":39.6,"u":0.4,"g":1.06},{"t":39.6,"u":0.6,"g":0.94},{"t":39.6,"u":0.8,"g":0.842},{"t":39.6,"u":1,"g":0.804},{"t":39.6,"u":1.2,"g":0.842},{"t":39.6,"u":1.4,"g":0.94},{"t":39.6,"u":1.6,"g":1.06},{"t":39.6,"u":1.8,"g":1.158},{"t":39.6,"u":2,"g":1.196},{"t":39.6,"u":2.2,"g":1.158},{"t":39.6,"u":2.4,"g":1.06}
],
"line": [
{"t":0,"a":1},{"t":0.4,"a":0.978},{"t":0.8,"a":0.913},{"t":1.2,"a":0.811},{"t":1.6,"a":0.68},{"t":2,"a":0.53},{"t":2.4,"a":0.37},{"t":2.8,"a":0.211},{"t":3.2,"a":0.062},{"t":3.6,"a":-0.07},{"t":4,"a":-0.182},{"t":4.4,"a":-0.269},{"t":4.8,"a":-0.333},{"t":5.2,"a":-0.374},{"t":5.6,"a":-0.396},{"t":6,"a":-0.403},{"t":6.4,"a":-0.396},{"t":6.8,"a":-0.381},{"t":7.2,"a":-0.361},{"t":7.6,"a":-0.339},{"t":8,"a":-0.316},{"t":8.4,"a":-0.296},{"t":8.8,"a":-0.278},{"t":9.2,"a":-0.266},{"t":9.6,"a":-0.258},{"t":10,"a":-0.255},
{"t":10.4,"a":-0.258},{"t":10.8,"a":-0.266},{"t":11.2,"a":-0.278},{"t":11.6,"a":-0.296},{"t":12,"a":-0.316},{"t":12.4,"a":-0.339},{"t":12.8,"a":-0.361},{"t":13.2,"a":-0.381},{"t":13.6,"a":-0.396},{"t":14,"a":-0.403},{"t":14.4,"a":-0.396},{"t":14.8,"a":-0.374},{"t":15.2,"a":-0.333},{"t":15.6,"a":-0.269},{"t":16,"a":-0.182},{"t":16.4,"a":-0.07},{"t":16.8,"a":0.062},{"t":17.2,"a":0.211},{"t":17.6,"a":0.37},{"t":18,"a":0.53},{"t":18.4,"a":0.68},{"t":18.8,"a":0.811},{"t":19.2,"a":0.913},{"t":19.6,"a":0.978},{"t":20,"a":1},
{"t":20.4,"a":0.978},{"t":20.8,"a":0.913},{"t":21.2,"a":0.811},{"t":21.6,"a":0.68},{"t":22,"a":0.53},{"t":22.4,"a":0.37},{"t":22.8,"a":0.211},{"t":23.2,"a":0.062},{"t":23.6,"a":-0.07},{"t":24,"a":-0.182},{"t":24.4,"a":-0.269},{"t":24.8,"a":-0.333},{"t":25.2,"a":-0.374},{"t":25.6,"a":-0.396},{"t":26,"a":-0.403},{"t":26.4,"a":-0.396},{"t":26.8,"a":-0.381},{"t":27.2,"a":-0.361},{"t":27.6,"a":-0.339},{"t":28,"a":-0.316},{"t":28.4,"a":-0.296},{"t":28.8,"a":-0.278},{"t":29.2,"a":-0.266},{"t":29.6,"a":-0.258},{"t":30,"a":-0.255},
{"t":30.4,"a":-0.258},{"t":30.8,"a":-0.266},{"t":31.2,"a":-0.278},{"t":31.6,"a":-0.296},{"t":32,"a":-0.316},{"t":32.4,"a":-0.339},{"t":32.8,"a":-0.361},{"t":33.2,"a":-0.381},{"t":33.6,"a":-0.396},{"t":34,"a":-0.403},{"t":34.4,"a":-0.396},{"t":34.8,"a":-0.374},{"t":35.2,"a":-0.333},{"t":35.6,"a":-0.269},{"t":36,"a":-0.182},{"t":36.4,"a":-0.07},{"t":36.8,"a":0.062},{"t":37.2,"a":0.211},{"t":37.6,"a":0.37},{"t":38,"a":0.53},{"t":38.4,"a":0.68},{"t":38.8,"a":0.811},{"t":39.2,"a":0.913},{"t":39.6,"a":0.978},{"t":40,"a":1}
]
},
"vconcat": [
{
"width": 354, "height": 176,
"layer": [
{"data": {"name": "heat"}, "mark": {"type": "rect"},
 "encoding": {
  "x": {"field": "t", "type": "ordinal", "axis": null, "scale": {"paddingInner": 0, "paddingOuter": 0}},
  "y": {"field": "u", "type": "ordinal", "axis": null, "sort": "descending", "scale": {"paddingInner": 0, "paddingOuter": 0}},
  "color": {"field": "g", "type": "quantitative",
   "scale": {"domain": [0.8, 0.85, 0.95, 1.05, 1.15, 1.2], "range": ["#00007f", "#0000ff", "#00ffff", "#ffff00", "#ff0000", "#7f0000"], "interpolate": "rgb"},
   "legend": {"type": "gradient", "title": null, "values": [0.8002, 0.9, 1, 1.1, 1.1998], "labelExpr": "datum.value > 0.99 && datum.value < 1.01 ? '1' : format(datum.value, '.1f')", "gradientLength": 177, "gradientThickness": 20, "gradientStrokeColor": "black", "gradientStrokeWidth": 1, "labelFontSize": 20, "labelFont": "Liberation Serif", "labelColor": "black", "labelOffset": 7, "offset": -6, "labelOverlap": false, "labelBaseline": "middle", "padding": 0}}
 }},
{"data": {"name": "line"}, "mark": {"type": "point", "opacity": 0},
 "encoding": {
  "x": {"field": "t", "type": "quantitative", "scale": {"domain": [0, 40], "nice": false, "zero": false},
   "axis": {"orient": "bottom", "values": [10, 20, 30], "labels": false, "tickSize": -4, "tickColor": "#555555", "title": null, "grid": false, "domain": true, "domainColor": "black", "domainWidth": 1, "zindex": 2}},
  "y": {"field": "a", "type": "quantitative", "scale": {"domain": [-2.5, 2.5], "nice": false, "zero": false},
   "axis": {"orient": "left", "values": [-2, -1, 0, 1, 2], "tickSize": -4, "tickColor": "#555555", "labelPadding": 12, "labelExpr": "datum.value == 2 ? '2' : datum.value == 0 ? '0' : datum.value == -2 ? '-2' : ''", "title": "u [mm]", "titleX": -41, "titleBaseline": "middle", "grid": false, "domain": true, "domainColor": "black", "domainWidth": 1, "zindex": 2}}
 }},
{"data": {"name": "line"}, "mark": {"type": "point", "opacity": 0},
 "encoding": {
  "x": {"field": "t", "type": "quantitative", "scale": {"domain": [0, 40], "nice": false, "zero": false},
   "axis": {"orient": "top", "values": [10, 20, 30], "labels": false, "tickSize": -4, "tickColor": "#555555", "title": null, "grid": false, "domain": true, "domainColor": "black", "domainWidth": 1, "zindex": 2, "minExtent": 0, "maxExtent": 0}},
  "y": {"field": "a", "type": "quantitative", "scale": {"domain": [-2.5, 2.5], "nice": false, "zero": false},
   "axis": {"orient": "right", "values": [-2, -1, 0, 1, 2], "labels": false, "tickSize": -4, "tickColor": "#555555", "title": null, "grid": false, "domain": true, "domainColor": "black", "domainWidth": 1, "zindex": 2, "minExtent": 0, "maxExtent": 0}}
 }}
],
"resolve": {"scale": {"x": "independent", "y": "independent"}}
},
{
"width": 354, "height": 118,
"data": {"name": "line"},
"mark": {"type": "line", "color": "#bf0040", "strokeWidth": 1.1},
"encoding": {
 "x": {"field": "t", "type": "quantitative", "scale": {"domain": [0, 40], "nice": false, "zero": false},
  "axis": {"values": [0, 10, 20, 30, 40], "grid": true, "ticks": false, "domain": false, "labelFlush": false, "labelPadding": 6, "labelExpr": "'' + datum.value", "title": "τ [ms]", "titleY": 49, "titleBaseline": "alphabetic"}},
 "y": {"field": "a", "type": "quantitative", "scale": {"domain": [-0.5, 1.1], "nice": false, "zero": false},
  "axis": {"values": [0, 0.5, 1], "grid": true, "ticks": false, "domain": false, "labelExpr": "datum.value == 1 ? '1' : datum.value == 0 ? '0' : ''", "labelPadding": 8, "title": "A(τ)", "titleX": -41, "titleBaseline": "middle"}}
}
}
],
"spacing": 6,
"config": {
 "font": "Liberation Serif",
 "view": {"stroke": "black", "strokeWidth": 1},
 "axis": {"labelFont": "Liberation Serif", "titleFont": "Liberation Serif", "labelFontSize": 20, "titleFontSize": 20, "labelColor": "black", "titleColor": "black", "titleFontWeight": "normal", "gridColor": "#c4c4c4", "gridWidth": 0.8}
}
}
